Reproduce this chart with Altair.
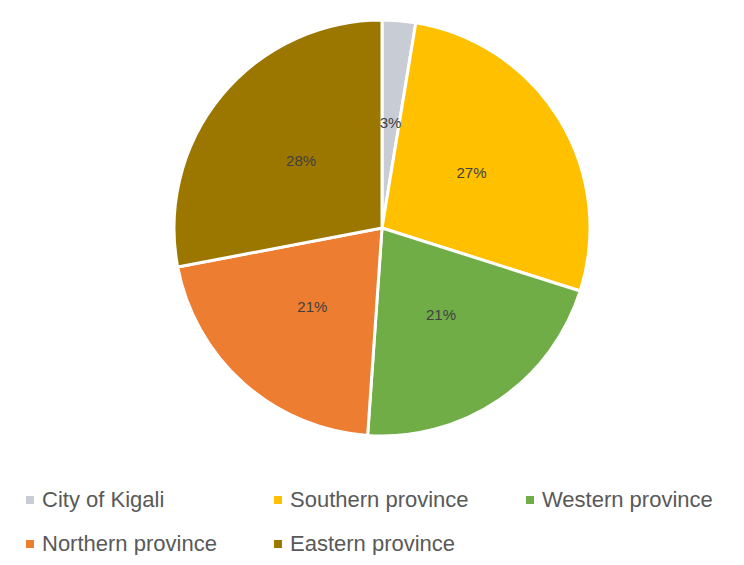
import altair as alt
import pandas as pd

categories = ["City of Kigali", "Southern province", "Western province", "Northern province", "Eastern province"]
shares = [2.6, 27.3, 21.2, 20.9, 28.0]
labels = ["3%", "27%", "21%", "21%", "28%"]
colors = ["#C8CCD4", "#FFC000", "#70AD47", "#ED7D31", "#9C7700"]

df = pd.DataFrame({
    "region": categories,
    "share": shares,
    "label": labels,
    "idx": list(range(len(categories))),
})

CX, CY = 374, 220

base = alt.Chart(df).encode(
    theta=alt.Theta("share:Q", stack=True),
    order=alt.Order("idx:Q"),
)

pie = base.mark_arc(outerRadius=208, stroke="white", strokeWidth=3).encode(
    color=alt.Color(
        "region:N",
        scale=alt.Scale(domain=categories, range=colors),
        sort=categories,
        legend=alt.Legend(
            orient="none", legendX=11, legendY=481, direction="horizontal",
            columns=3, title=None, gridAlign="each", columnPadding=50, rowPadding=22,
            symbolType="square", symbolSize=64, symbolStrokeWidth=0,
            labelFontSize=22, labelFont="Liberation Sans", labelColor="#595959",
            labelOffset=1, labelLimit=400, padding=0,
        ),
    ),
    x=alt.value(CX), y=alt.value(CY),
)

text = base.mark_text(radius=105, fontSize=15, color="#404040", font="Liberation Sans").encode(
    text="label:N", x=alt.value(CX), y=alt.value(CY),
)

chart = (pie + text).properties(width=728, height=440, padding=0).configure_view(stroke=None)
chart.save("out.html", embed_options={"renderer": "svg", "actions": False})
